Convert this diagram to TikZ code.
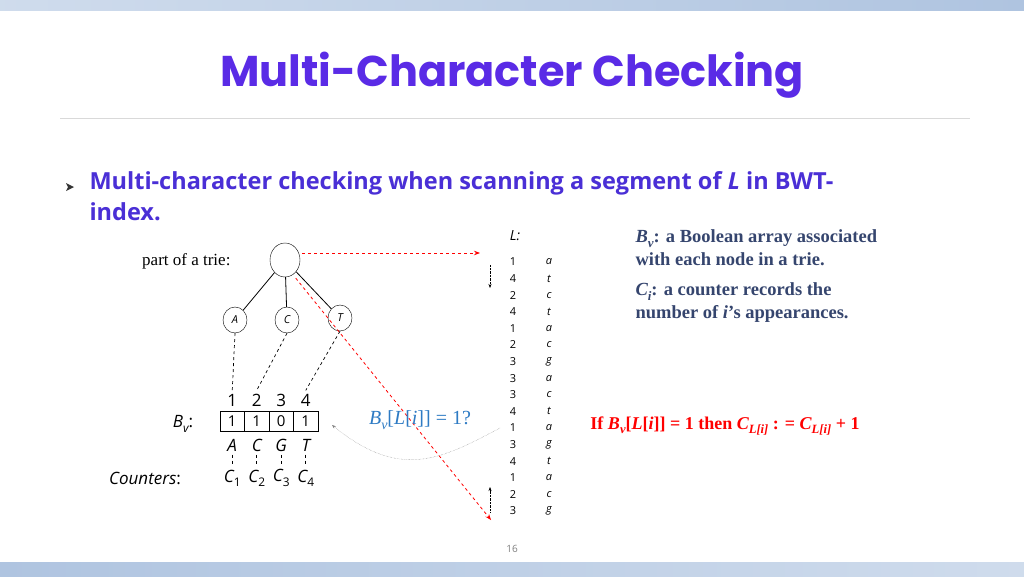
\documentclass[tikz,border=0pt]{standalone}
\usepackage{fontspec}
\setmainfont{Liberation Serif}
\setsansfont{Open Sans}
\newfontfamily\titlef{Poppins}
\usetikzlibrary{arrows.meta,shapes.geometric}
\definecolor{ttl}{HTML}{5A2BE6}
\definecolor{sub}{HTML}{4A2FD6}
\definecolor{rtxt}{HTML}{35456E}
\definecolor{bar}{HTML}{AFC4E0}
\definecolor{qblue}{HTML}{2E7BC4}
\newcommand{\sbx}[1]{\raisebox{-0.25em}{\fontsize{0.7em}{0.7em}\selectfont #1}}
\tikzset{
 tnode/.style={draw,ellipse,minimum width=24pt,minimum height=26pt,inner sep=0pt,font=\sffamily\itshape\fontsize{11}{11}\selectfont},
 tedge/.style={line width=0.8pt},
 dsh/.style={dashed,line width=0.7pt},
 redarr/.style={red,dashed,line width=0.8pt,-{Stealth[length=6pt]}},
 lnum/.style={font=\sffamily\fontsize{11}{11}\selectfont},
 llet/.style={font=\sffamily\itshape\fontsize{11}{11}\selectfont},
 cell/.style={draw,minimum width=24.5pt,minimum height=20pt,inner sep=0pt,font=\sffamily\fontsize{15}{15}\selectfont},
 big/.style={font=\sffamily\fontsize{17}{17}\selectfont},
}
\begin{document}
\begin{tikzpicture}[x=1pt,y=-1pt]
\useasboundingbox (0,0) rectangle (1024,576);
\fill[white] (0,0) rectangle (1024,576);
\shade[left color=bar!60,right color=bar] (0,0) rectangle (1024,10);
\shade[left color=bar,right color=bar!60] (0,562) rectangle (1024,576);
\node (title) at (512,75) {\titlef\bfseries\fontsize{43}{43}\selectfont\color{ttl}Multi-Character Checking};
\draw[gray!30,line width=0.8pt] (60,118) -- (970,118);
\fill[black!80] (66,183) -- (74,187) -- (66,191) -- (68,187) -- cycle;
\node[anchor=west,font=\sffamily\bfseries\fontsize{23.5}{23.5}\selectfont,text=sub] (s1) at (86,183) {Multi-character checking when scanning a segment of \textit{L} in BWT-};
\node[anchor=west,font=\sffamily\bfseries\fontsize{23.5}{23.5}\selectfont,text=sub] (s2) at (86,212) {index.};
% tree
\node[anchor=east,font=\fontsize{17}{17}\selectfont] (pt) at (234,261) {part of a trie:};
\node[tnode,minimum width=30pt,minimum height=34pt] (root) at (285,260) {};
\node[tnode] (na) at (235,320) {A};
\node[tnode] (nc) at (287,320) {C};
\node[tnode] (nt) at (340,318) {T};
\draw[tedge] (root) -- (na); \draw[tedge] (root) -- (nc); \draw[tedge] (root) -- (nt);
% array
\foreach \i/\v/\x in {1/1/232.25,2/1/256.75,3/0/281.25,4/1/305.75}{
 \node[cell] (c\i) at (\x,421) {\v};
 \node[big] (n\i) at (\x,400) {\i};
}
\foreach \i/\l in {1/A,2/C,3/G,4/T}{
 \node[big,font=\sffamily\itshape\fontsize{17}{17}\selectfont] (l\i) at (c\i.center |- 0,445) {\l};
 \node[big,font=\sffamily\itshape\fontsize{17}{17}\selectfont] (k\i) at (c\i.center |- 0,478) {C\sbx{\upshape\i}};
 \draw[dsh] (l\i.south) -- (k\i.north);
}
\draw[dsh] (na.south) -- (n1.north);
\draw[dsh] (nc.south) -- (n2.north);
\draw[dsh] (nt.south) -- (n4.north);
\node[big] (bv) at (183,424) {\textit{B\sbx{v}}:};
\node[big] (cnt) at (145,478) {\textit{Counters}:};
% L column
\node[font=\sffamily\itshape\fontsize{14}{14}\selectfont] (lh) at (515,236) {L:};
\foreach [count=\r] \n/\c in {1/a,4/t,2/c,4/t,1/a,2/c,3/g,3/a,3/c,4/t,1/a,3/g,4/t,1/a,2/c,3/g}{
 \node[lnum] (ln\r) at (513,262+16.6*\r-16.6) {\n};
 \node[llet] (lc\r) at (549,262+16.6*\r-16.6) {\c};
}
\coordinate (ra) at (480,253);
\coordinate (rb) at (491,520);
\draw[redarr] (root.east) ++(2,-7) -- (ra);
\draw[redarr] (root.south east) ++(0,6) -- (rb);
\coordinate (d1) at (490,265); \coordinate (d2) at (490,288);
\coordinate (u1) at (490,512); \coordinate (u2) at (490,487);
\draw[densely dotted,-{Stealth[length=4pt]}] (d1) -- (d2);
\draw[densely dotted,-{Stealth[length=4pt]}] (u1) -- (u2);
\coordinate (cs) at (500,428); \coordinate (ce) at (332,425);
\draw[gray,densely dotted,-{Stealth[length=4pt]}] (cs) .. controls (440,460) and (400,480) .. (ce);
\node[font=\fontsize{20}{20}\selectfont,text=qblue] (q) at (420,420) {\textit{B\sbx{v}}[\textit{L}[\textit{i}]] = 1?};
% right text
\node[anchor=west,align=left,font=\bfseries\fontsize{18.5}{23}\selectfont,text=rtxt] (t1) at (632,248) {\textit{B\sbx{v}}: a Boolean array associated\\with each node in a trie.};
\node[anchor=west,align=left,font=\bfseries\fontsize{18.5}{23}\selectfont,text=rtxt] (t2) at (632,303) {\textit{C\sbx{i}}: a counter records the\\number of \textit{i}'s appearances.};
\node[font=\bfseries\fontsize{18}{18}\selectfont,text=red] (t3) at (725,426) {If \textit{B\sbx{v}}[\textit{L}[\textit{i}]] = 1 then \textit{C\sbx{L[i]}} : = \textit{C\sbx{L[i]}} + 1};
\node[font=\sffamily\fontsize{10}{10}\selectfont,text=gray] (pg) at (512,549) {16};
\end{tikzpicture}
\end{document}
